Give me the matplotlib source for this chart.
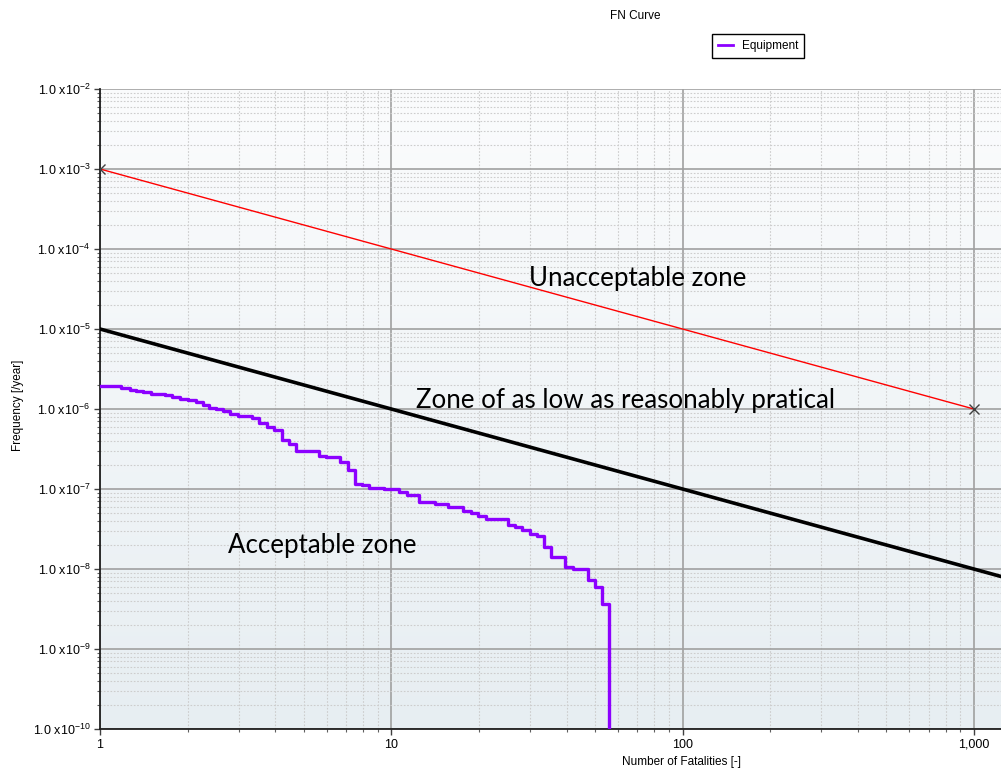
import numpy as np
import matplotlib.pyplot as plt
from matplotlib.colors import LinearSegmentedColormap
from matplotlib.ticker import FixedLocator, FuncFormatter, LogLocator, NullFormatter

plt.rcParams['font.family'] = ['Liberation Sans', 'DejaVu Sans']
plt.rcParams['mathtext.default'] = 'regular'

# criteria lines
upper_n = [1, 1000]
upper_f = [1e-3, 1e-6]
lower_n = [1, 10000]
lower_f = [1e-5, 1e-9]

# equipment FN curve (step start points)
equip_n = [1.0, 1.18, 1.27, 1.33, 1.41, 1.5, 1.67, 1.77, 1.88, 2.0,
           2.13, 2.25, 2.36, 2.51, 2.65, 2.79, 2.98, 3.32, 3.52, 3.74,
           3.97, 4.21, 4.46, 4.7, 5.63, 5.98, 6.68, 7.08, 7.52, 7.93,
           8.4, 9.41, 10.6, 11.3, 12.5, 14.1, 15.7, 17.7, 18.8, 19.9,
           21.2, 25.2, 26.5, 28.1, 30.0, 31.7, 33.4, 35.4, 39.6, 42.0,
           47.3, 50.0, 53.0, 56.1]
equip_f = [1.94e-6, 1.82e-6, 1.73e-6, 1.67e-6, 1.62e-6, 1.55e-6, 1.50e-6, 1.43e-6, 1.35e-6, 1.30e-6,
           1.23e-6, 1.12e-6, 1.04e-6, 9.9e-7, 9.4e-7, 8.6e-7, 8.1e-7, 7.65e-7, 6.7e-7, 6.0e-7,
           5.4e-7, 4.1e-7, 3.7e-7, 3.0e-7, 2.6e-7, 2.5e-7, 2.2e-7, 1.73e-7, 1.155e-7, 1.11e-7,
           1.04e-7, 9.9e-8, 9.25e-8, 8.5e-8, 6.95e-8, 6.55e-8, 6.0e-8, 5.3e-8, 4.97e-8, 4.6e-8,
           4.18e-8, 3.52e-8, 3.35e-8, 3.05e-8, 2.72e-8, 2.56e-8, 1.9e-8, 1.41e-8, 1.06e-8, 9.9e-9,
           7.2e-9, 5.9e-9, 3.6e-9, 1e-12]

x_ticks = [1, 10, 100, 1000]
x_labels = ['1', '10', '100', '1,000']
y_exps = list(range(-10, -1))

fig = plt.figure(figsize=(10.01, 7.71), dpi=100)
pos = [100 / 1001, 42 / 771, 901 / 1001, 640 / 771]

# gradient background
bg = fig.add_axes(pos, zorder=0)
cmap = LinearSegmentedColormap.from_list('bg', ['#e7eef2', '#fbfcfd'])
bg.imshow(np.linspace(0, 1, 256).reshape(-1, 1), aspect='auto', cmap=cmap,
          origin='lower', extent=[0, 1, 0, 1])
bg.axis('off')

ax = fig.add_axes(pos, zorder=1)
ax.set_facecolor('none')
ax.set_xscale('log')
ax.set_yscale('log')
ax.set_xlim(1, 1240)
ax.set_ylim(1e-10, 1e-2)

ax.plot(upper_n, upper_f, color='red', lw=1.0, zorder=3)
ax.plot(upper_n, upper_f, ls='none', marker='x', ms=7, mew=1.0, color='#404040', zorder=4)
ax.plot(lower_n, lower_f, color='black', lw=2.6, zorder=3)
ax.plot(equip_n, equip_f, drawstyle='steps-post', color='#8c00ff', lw=2.4,
        label='Equipment', zorder=3)

# ticks
ax.xaxis.set_major_locator(FixedLocator(x_ticks))
ax.xaxis.set_major_formatter(FuncFormatter(lambda v, p: x_labels[x_ticks.index(int(round(v)))] if int(round(v)) in x_ticks else ''))
ax.xaxis.set_minor_locator(LogLocator(base=10, subs=np.arange(2, 10), numticks=20))
ax.xaxis.set_minor_formatter(NullFormatter())
ax.yaxis.set_major_locator(FixedLocator([10.0 ** e for e in y_exps]))
ax.yaxis.set_major_formatter(FuncFormatter(lambda v, p: r'1.0 x10$^{%d}$' % int(round(np.log10(v)))))
ax.yaxis.set_minor_locator(LogLocator(base=10, subs=np.arange(2, 10), numticks=20))
ax.yaxis.set_minor_formatter(NullFormatter())
ax.tick_params(which='major', length=4, width=1, labelsize=9, color='#404040', pad=3)
ax.tick_params(which='minor', length=2.5, width=0.8, color='#606060')

ax.grid(which='major', color='#a0a0a0', lw=1.2, ls='-')
ax.grid(which='minor', color='#cdcdcd', lw=0.8, ls=(0, (1.5, 1.5)))
ax.set_axisbelow(True)

for s in ['top', 'right']:
    ax.spines[s].set_visible(False)
for s in ['left', 'bottom']:
    ax.spines[s].set_color('#202020')
    ax.spines[s].set_linewidth(1.3)

fig.text(18 / 1001, 1 - 405 / 771, 'Frequency [/year]', rotation=90, ha='center', va='center', fontsize=8.5)
fig.text(681 / 1001, 1 - 762 / 771, 'Number of Fatalities [-]', ha='center', va='center', fontsize=8.5)
fig.text(635 / 1001, 1 - 16 / 771, 'FN Curve', ha='center', va='center', fontsize=8.5)

leg = fig.legend(loc='center', bbox_to_anchor=(758 / 1001, 1 - 46 / 771), fontsize=8.5,
                 frameon=True, fancybox=False, edgecolor='black', handlelength=1.3,
                 borderpad=0.55, handletextpad=0.7, framealpha=1)
for h in leg.get_lines():
    h.set_linewidth(2.0)

zone_font = dict(family=['Lato', 'DejaVu Sans'], fontsize=18.6, ha='center', va='center')
fig.text(638 / 1001, 1 - 278 / 771, 'Unacceptable zone', **zone_font)
fig.text(626 / 1001, 1 - 400 / 771, 'Zone of as low as reasonably pratical', **zone_font)
fig.text(322 / 1001, 1 - 546 / 771, 'Acceptable zone', **zone_font)

fig.savefig('out.png', dpi=100)
